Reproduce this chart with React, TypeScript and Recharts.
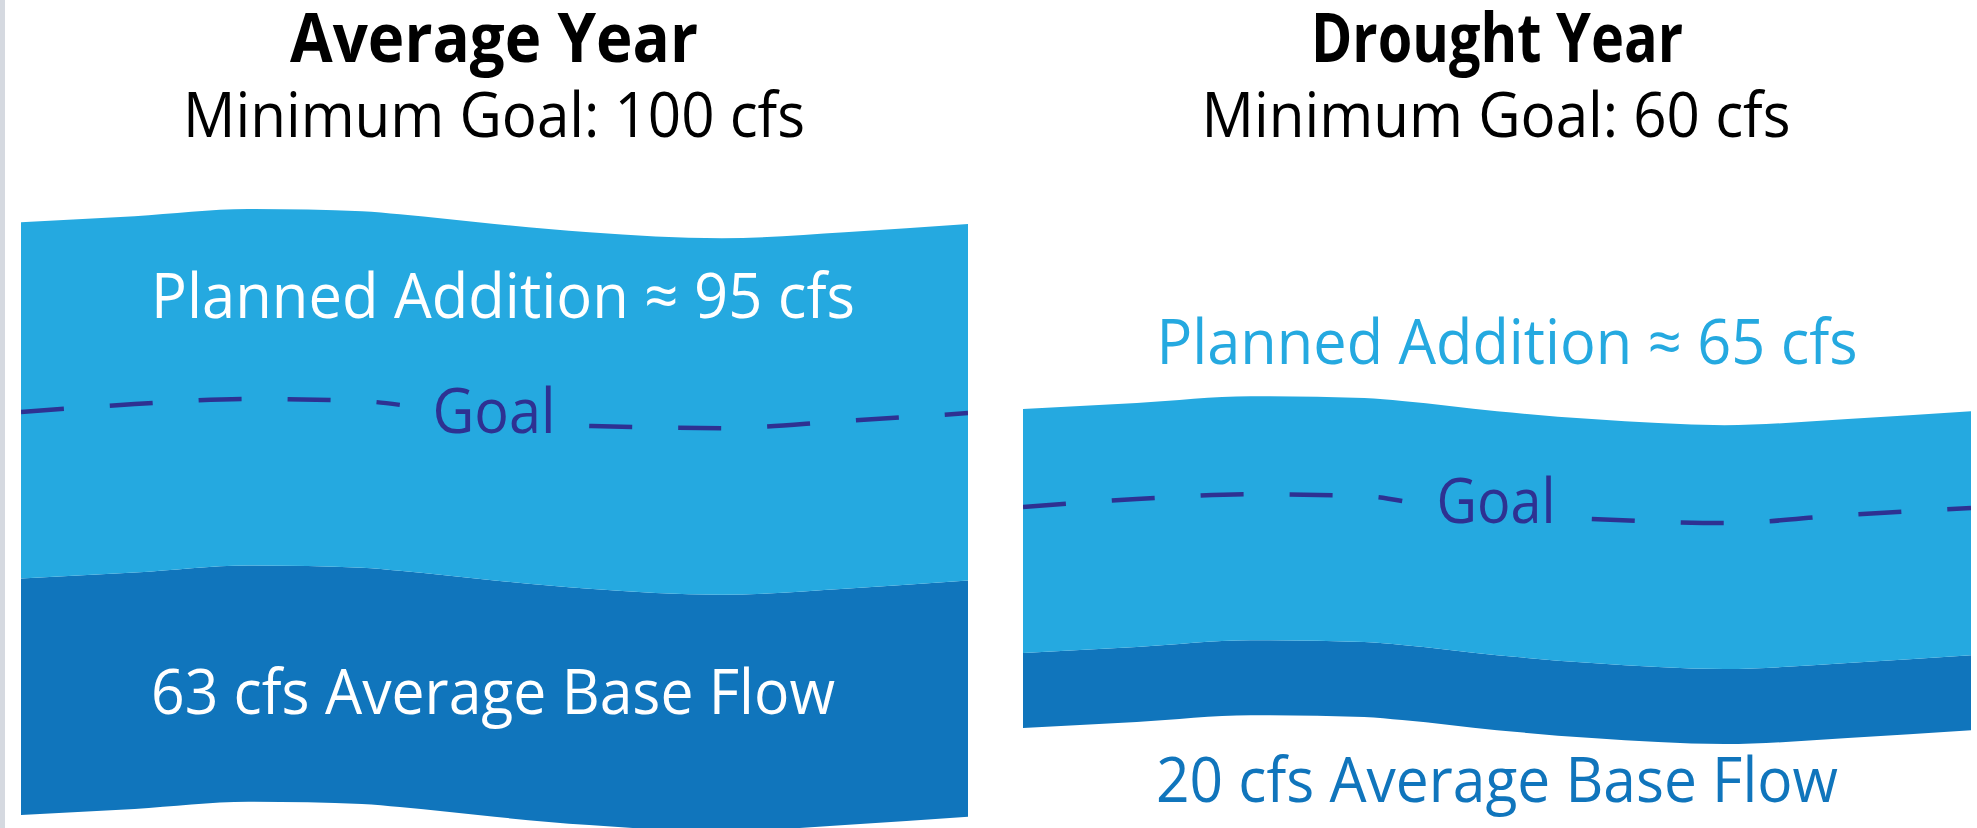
import { ComposedChart, Area, Line, XAxis, YAxis } from "recharts";

// positions along the stream, 0 = left edge of a panel, 100 = right edge
const positions = [0, 12, 24, 36, 40, 50, 60, 74, 87, 100];

// Average year (levels in chart units, ~cfs)
const avgBed = [8.8, 10.4, 12.3, 11.7, 10.9, 8.3, 6.1, 4.5, 6.1, 8.3];
const avgBaseFlow = [63, 63, 63, 63, 63, 63, 63, 63, 63, 63];
const avgAddition = [95, 95, 95, 95, 95, 95, 95, 95, 95, 95];
const avgGoalBefore = [116.2, 118.3, 119.7, 119.1, 118.1, null, null, null, null, null];
const avgGoalAfter = [null, null, null, null, null, null, 112.5, 111.9, 113.8, 115.9];

// Drought year
const droughtBed = [32.0, 33.6, 35.4, 34.9, 34.1, 31.4, 29.3, 27.7, 29.3, 31.4];
const droughtBaseFlow = [20, 20, 20, 20, 20, 20, 20, 20, 20, 20];
const droughtAddition = [65, 65, 65, 65, 65, 65, 65, 65, 65, 65];
const droughtGoalBefore = [90.9, 93.0, 94.3, 93.8, 92.5, null, null, null, null, null];
const droughtGoalAfter = [null, null, null, null, null, null, 87.7, 86.6, 88.8, 90.6];

const titles = ["Average Year", "Drought Year"];
const goalTitles = ["Minimum Goal: 100 cfs", "Minimum Goal: 60 cfs"];
const additionLabels = ["Planned Addition \u2248 95 cfs", "Planned Addition \u2248 65 cfs"];
const baseLabels = ["63 cfs Average Base Flow", "20 cfs Average Base Flow"];

const LIGHT = "#25a9e0";
const DARK = "#1075bc";
const NAVY = "#2e3192";
const FONT = "'Open Sans', 'Noto Sans', sans-serif";

type Val = number | null;

function buildRows(bed: number[], base: number[], addition: number[], goalA: Val[], goalB: Val[]) {
  return positions.map((pos, i) => ({
    pos,
    bed: bed[i],
    base: base[i],
    addition: addition[i],
    goalA: goalA[i],
    goalB: goalB[i],
  }));
}

const avgRows = buildRows(avgBed, avgBaseFlow, avgAddition, avgGoalBefore, avgGoalAfter);
const droughtRows = buildRows(droughtBed, droughtBaseFlow, droughtAddition, droughtGoalBefore, droughtGoalAfter);

interface PanelProps {
  rows: ReturnType<typeof buildRows>;
  left: number;
  width: number;
}

function StreamPanel({ rows, left, width }: PanelProps) {
  return (
    <div style={{ position: "absolute", left, top: 0 }}>
      <ComposedChart width={width} height={848} data={rows} margin={{ top: 0, right: 0, bottom: 0, left: 0 }}>
        <XAxis type="number" dataKey="pos" domain={[0, 100]} hide allowDataOverflow />
        <YAxis type="number" domain={[0, 226]} hide allowDataOverflow />
        <Area type="monotone" dataKey="bed" stackId="s" stroke="none" fill="none" isAnimationActive={false} />
        <Area type="monotone" dataKey="base" stackId="s" stroke="none" fill={DARK} fillOpacity={1} isAnimationActive={false} />
        <Area type="monotone" dataKey="addition" stackId="s" stroke="none" fill={LIGHT} fillOpacity={1} isAnimationActive={false} />
        <Line type="monotone" dataKey="goalA" stroke={NAVY} strokeWidth={4.5} strokeDasharray="43 46" dot={false} activeDot={false} isAnimationActive={false} />
        <Line type="monotone" dataKey="goalB" stroke={NAVY} strokeWidth={4.5} strokeDasharray="43 46" dot={false} activeDot={false} isAnimationActive={false} />
      </ComposedChart>
    </div>
  );
}

export default function App() {
  return (
    <div style={{ position: "absolute", left: 0, top: 0, width: 1977, height: 828, overflow: "hidden", background: "#fff" }}>
      <div style={{ position: "absolute", left: 0, top: 0, width: 5, height: 828, background: "#d5d9e0" }} />
      <StreamPanel rows={avgRows} left={21} width={947} />
      <StreamPanel rows={droughtRows} left={1023} width={948} />
      <svg width={1977} height={828} style={{ position: "absolute", left: 0, top: 0, pointerEvents: "none" }} fontFamily={FONT} textAnchor="middle">
        <text x={494} y={62} fontSize={68} fontWeight={700} textLength={408} lengthAdjust="spacingAndGlyphs">{titles[0]}</text>
        <text x={1497} y={62} fontSize={68} fontWeight={700} textLength={372} lengthAdjust="spacingAndGlyphs">{titles[1]}</text>
        <text x={494} y={137} fontSize={62} textLength={622} lengthAdjust="spacingAndGlyphs">{goalTitles[0]}</text>
        <text x={1496} y={137} fontSize={62} textLength={589} lengthAdjust="spacingAndGlyphs">{goalTitles[1]}</text>
        <text x={503} y={318} fontSize={62} fill="#fff" textLength={704} lengthAdjust="spacingAndGlyphs">{additionLabels[0]}</text>
        <text x={1507} y={364} fontSize={62} fill={LIGHT} textLength={701} lengthAdjust="spacingAndGlyphs">{additionLabels[1]}</text>
        <text x={494} y={433} fontSize={62} fill={NAVY} textLength={123} lengthAdjust="spacingAndGlyphs">Goal</text>
        <text x={1496} y={523} fontSize={62} fill={NAVY} textLength={119} lengthAdjust="spacingAndGlyphs">Goal</text>
        <text x={493} y={714} fontSize={62} fill="#fff" textLength={684} lengthAdjust="spacingAndGlyphs">{baseLabels[0]}</text>
        <text x={1497} y={802} fontSize={62} fill={DARK} textLength={682} lengthAdjust="spacingAndGlyphs">{baseLabels[1]}</text>
      </svg>
    </div>
  );
}
